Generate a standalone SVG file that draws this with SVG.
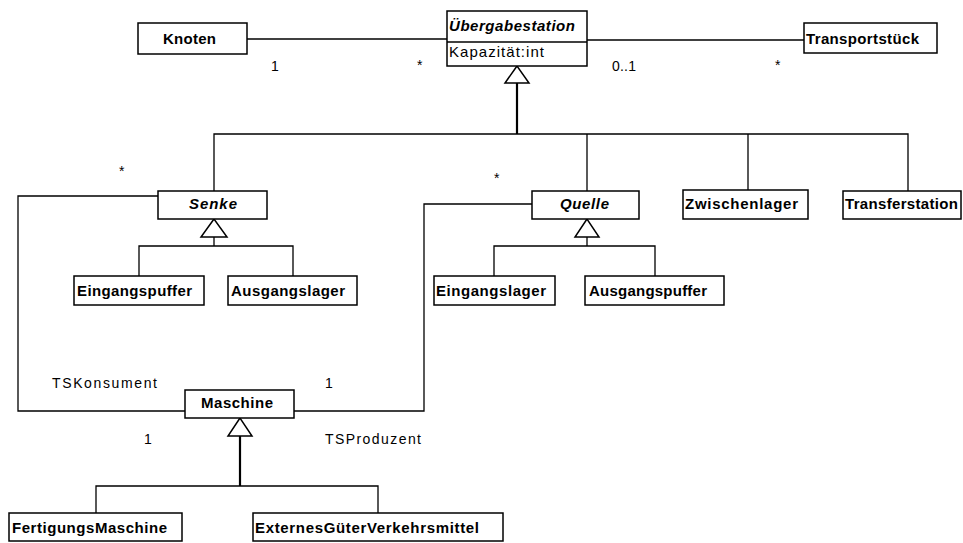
<svg xmlns="http://www.w3.org/2000/svg" width="963" height="543" viewBox="0 0 963 543">
  <style>
    .box { fill: #ffffff; stroke: #000000; stroke-width: 1.5; }
    .line { fill: none; stroke: #000000; stroke-width: 1.3; }
    .thick { fill: none; stroke: #000000; stroke-width: 2.2; }
    .tri { fill: #ffffff; stroke: #000000; stroke-width: 1.5; stroke-linejoin: miter; }
    text { font-family: "Liberation Sans", Arial, sans-serif; font-size: 15px; fill: #000000; }
    .name { font-weight: bold; }
    .abstract { font-weight: bold; font-style: italic; }
    .label { font-size: 14px; }
  </style>
  <rect width="963" height="543" fill="#ffffff"/>

  <!-- connectors: associations and generalizations -->
  <g id="connectors">
    <!-- Knoten 1 - * Übergabestation -->
    <line class="line" x1="247" y1="39" x2="447" y2="39"/>
    <!-- Übergabestation 0..1 - * Transportstück -->
    <line class="line" x1="587" y1="40" x2="804" y2="40"/>
    <!-- generalization of Übergabestation -->
    <line class="thick" x1="517" y1="83" x2="517" y2="134"/>
    <polyline class="line" points="214,191 214,134 908,134 908,191"/>
    <line class="line" x1="587" y1="134" x2="587" y2="191"/>
    <line class="line" x1="748" y1="134" x2="748" y2="190"/>
    <polygon class="tri" points="517,66 505,83 529,83"/>
    <!-- generalization of Senke -->
    <line class="line" x1="214" y1="237" x2="214" y2="246"/>
    <polyline class="line" points="139,276 139,246 293,246 293,276"/>
    <polygon class="tri" points="214,219 201,237 227,237"/>
    <!-- generalization of Quelle -->
    <line class="line" x1="587" y1="237" x2="587" y2="246"/>
    <polyline class="line" points="494,276 494,246 655,246 655,276"/>
    <polygon class="tri" points="587,219 575,237 599,237"/>
    <!-- Senke * - 1 Maschine (TSKonsument) -->
    <polyline class="line" points="158,196 18,196 18,411 185,411"/>
    <!-- Quelle * - 1 Maschine (TSProduzent) -->
    <polyline class="line" points="532,204 424,204 424,411 294,411"/>
    <!-- generalization of Maschine -->
    <line class="thick" x1="240" y1="436" x2="240" y2="486"/>
    <polyline class="line" points="96,513 96,486 378,486 378,513"/>
    <polygon class="tri" points="240,418 228,436 252,436"/>
  </g>

  <!-- multiplicities and role names -->
  <g id="labels">
    <text class="label" x="271" y="71">1</text>
    <text class="label" x="417" y="70">*</text>
    <text class="label" x="612" y="71" textLength="24" lengthAdjust="spacing">0..1</text>
    <text class="label" x="775" y="70">*</text>
    <text class="label" x="119" y="176">*</text>
    <text class="label" x="494" y="183">*</text>
    <text class="label" x="52" y="388" textLength="105" lengthAdjust="spacing">TSKonsument</text>
    <text class="label" x="325" y="388">1</text>
    <text class="label" x="144" y="444">1</text>
    <text class="label" x="325" y="444" textLength="96" lengthAdjust="spacing">TSProduzent</text>
  </g>

  <g id="knoten">
    <rect class="box" x="138" y="23" width="109" height="31"/>
    <text class="name" x="163" y="44" textLength="53" lengthAdjust="spacing">Knoten</text>
  </g>

  <g id="uebergabestation">
    <rect class="box" x="447" y="11" width="140" height="55"/>
    <line class="line" x1="447" y1="42" x2="587" y2="42"/>
    <text class="abstract" x="449" y="31" textLength="126" lengthAdjust="spacing">Übergabestation</text>
    <text x="449" y="57" textLength="95" lengthAdjust="spacing">Kapazität:int</text>
  </g>

  <g id="transportstueck">
    <rect class="box" x="804" y="23" width="133" height="30"/>
    <text class="name" x="806" y="44" textLength="113" lengthAdjust="spacing">Transportstück</text>
  </g>

  <g id="senke">
    <rect class="box" x="158" y="191" width="109" height="28"/>
    <text class="abstract" x="189" y="209" textLength="48" lengthAdjust="spacing">Senke</text>
  </g>

  <g id="quelle">
    <rect class="box" x="532" y="191" width="107" height="28"/>
    <text class="abstract" x="560" y="209" textLength="49" lengthAdjust="spacing">Quelle</text>
  </g>

  <g id="zwischenlager">
    <rect class="box" x="683" y="190" width="125" height="29"/>
    <text class="name" x="685" y="209" textLength="113" lengthAdjust="spacing">Zwischenlager</text>
  </g>

  <g id="transferstation">
    <rect class="box" x="843" y="191" width="118" height="28"/>
    <text class="name" x="845" y="209" textLength="113" lengthAdjust="spacing">Transferstation</text>
  </g>

  <g id="eingangspuffer">
    <rect class="box" x="74" y="276" width="130" height="29"/>
    <text class="name" x="77" y="296" textLength="115" lengthAdjust="spacing">Eingangspuffer</text>
  </g>

  <g id="ausgangslager">
    <rect class="box" x="228" y="276" width="129" height="29"/>
    <text class="name" x="231" y="296" textLength="114" lengthAdjust="spacing">Ausgangslager</text>
  </g>

  <g id="eingangslager">
    <rect class="box" x="434" y="276" width="121" height="29"/>
    <text class="name" x="436" y="296" textLength="110" lengthAdjust="spacing">Eingangslager</text>
  </g>

  <g id="ausgangspuffer">
    <rect class="box" x="585" y="276" width="139" height="29"/>
    <text class="name" x="589" y="296" textLength="118" lengthAdjust="spacing">Ausgangspuffer</text>
  </g>

  <g id="maschine">
    <rect class="box" x="185" y="390" width="109" height="28"/>
    <text class="name" x="201" y="408" textLength="72" lengthAdjust="spacing">Maschine</text>
  </g>

  <g id="fertigungsmaschine">
    <rect class="box" x="9" y="513" width="173" height="28"/>
    <text class="name" x="12" y="533" textLength="155" lengthAdjust="spacing">FertigungsMaschine</text>
  </g>

  <g id="externesgueterverkehrsmittel">
    <rect class="box" x="253" y="513" width="250" height="28"/>
    <text class="name" x="255" y="533" textLength="224" lengthAdjust="spacing">ExternesGüterVerkehrsmittel</text>
  </g>
</svg>
